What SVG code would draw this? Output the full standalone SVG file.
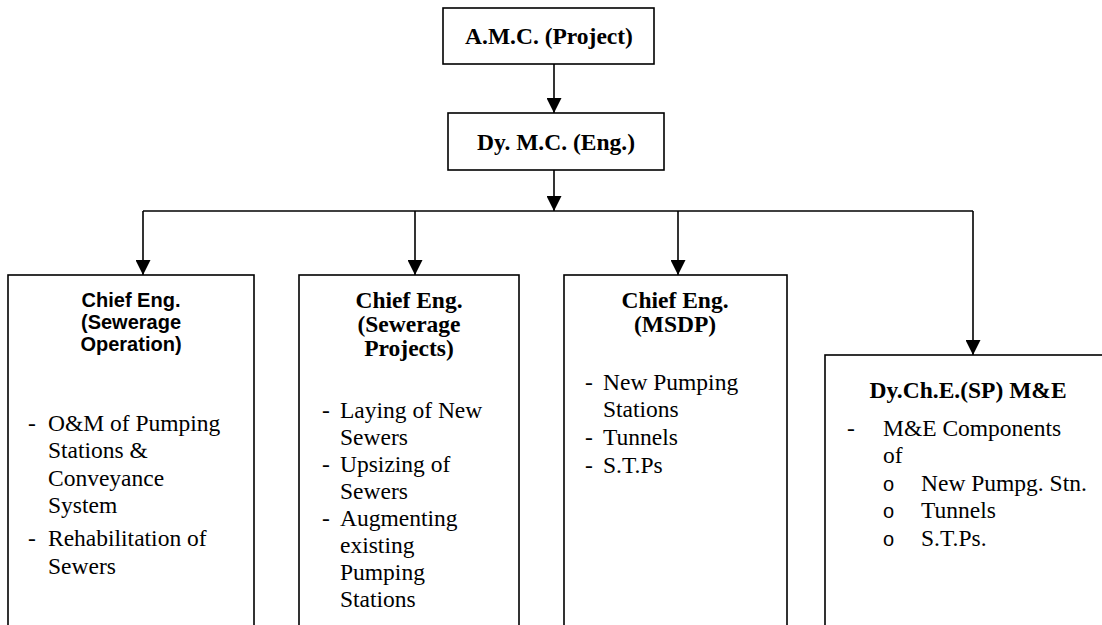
<svg xmlns="http://www.w3.org/2000/svg" width="1102" height="625" viewBox="0 0 1102 625">
  <style>
    .box { fill: #ffffff; stroke: #000000; stroke-width: 1.6; }
    .wire { fill: none; stroke: #000000; stroke-width: 1.6; }
    .hd { font-family: "Liberation Serif", "Times New Roman", serif; font-weight: bold; font-size: 23.5px; fill: #000; text-anchor: middle; }
    .gh { font-family: "Liberation Sans", Arial, sans-serif; font-weight: bold; font-size: 20px; fill: #000; text-anchor: middle; }
    .tx { font-family: "Liberation Serif", "Times New Roman", serif; font-size: 23.5px; fill: #000; }
    .bl { font-family: "Liberation Sans", Arial, sans-serif; font-size: 20px; fill: #000; }
  </style>
  <defs>
    <marker id="head" markerUnits="userSpaceOnUse" markerWidth="15" markerHeight="15" refX="15" refY="7.5" orient="auto">
      <path d="M0,0 L15,7.5 L0,15 z" fill="#000"/>
    </marker>
  </defs>

  <rect width="1102" height="625" fill="#ffffff"/>

  <!-- connectors -->
  <g id="connectors">
    <line class="wire" x1="554" y1="64" x2="554" y2="113" marker-end="url(#head)"/>
    <line class="wire" x1="554" y1="170" x2="554" y2="211" marker-end="url(#head)"/>
    <line class="wire" x1="143" y1="211" x2="973" y2="211"/>
    <line class="wire" x1="143" y1="211" x2="143" y2="275" marker-end="url(#head)"/>
    <line class="wire" x1="415" y1="211" x2="415" y2="275" marker-end="url(#head)"/>
    <line class="wire" x1="678" y1="211" x2="678" y2="275" marker-end="url(#head)"/>
    <line class="wire" x1="973" y1="211" x2="973" y2="355" marker-end="url(#head)"/>
  </g>

  <!-- top level -->
  <g id="amc">
    <rect class="box" x="443" y="8" width="211" height="56"/>
    <text class="hd" x="549" y="44">A.M.C. (Project)</text>
  </g>

  <g id="dymc">
    <rect class="box" x="448" y="113" width="216" height="57"/>
    <text class="hd" x="556" y="150">Dy. M.C. (Eng.)</text>
  </g>

  <!-- Sewerage Operation -->
  <g id="ce-operation">
    <rect class="box" x="8" y="275" width="246" height="380"/>
    <text class="gh" x="131" y="307">Chief Eng.</text>
    <text class="gh" x="131" y="329">(Sewerage</text>
    <text class="gh" x="131" y="351">Operation)</text>
    <text class="tx" x="28" y="431">-</text>
    <text class="tx" x="48" y="431">O&amp;M of Pumping</text>
    <text class="tx" x="48" y="458">Stations &amp;</text>
    <text class="tx" x="48" y="486">Conveyance</text>
    <text class="tx" x="48" y="513">System</text>
    <text class="tx" x="28" y="546">-</text>
    <text class="tx" x="48" y="546">Rehabilitation of</text>
    <text class="tx" x="48" y="574">Sewers</text>
  </g>

  <!-- Sewerage Projects -->
  <g id="ce-projects">
    <rect class="box" x="299" y="275" width="220" height="380"/>
    <text class="hd" x="409" y="308">Chief Eng.</text>
    <text class="hd" x="409" y="332">(Sewerage</text>
    <text class="hd" x="409" y="356">Projects)</text>
    <text class="tx" x="322" y="418">-</text>
    <text class="tx" x="340" y="418">Laying of New</text>
    <text class="tx" x="340" y="445">Sewers</text>
    <text class="tx" x="322" y="472">-</text>
    <text class="tx" x="340" y="472">Upsizing of</text>
    <text class="tx" x="340" y="499">Sewers</text>
    <text class="tx" x="322" y="526">-</text>
    <text class="tx" x="340" y="526">Augmenting</text>
    <text class="tx" x="340" y="553">existing</text>
    <text class="tx" x="340" y="580">Pumping</text>
    <text class="tx" x="340" y="607">Stations</text>
  </g>

  <!-- MSDP -->
  <g id="ce-msdp">
    <rect class="box" x="564" y="275" width="223" height="380"/>
    <text class="hd" x="675" y="308">Chief Eng.</text>
    <text class="hd" x="675" y="332">(MSDP)</text>
    <text class="tx" x="585" y="390">-</text>
    <text class="tx" x="603" y="390">New Pumping</text>
    <text class="tx" x="603" y="417">Stations</text>
    <text class="tx" x="585" y="445">-</text>
    <text class="tx" x="603" y="445">Tunnels</text>
    <text class="tx" x="585" y="473">-</text>
    <text class="tx" x="603" y="473">S.T.Ps</text>
  </g>

  <!-- M&E -->
  <g id="dyche-me">
    <rect class="box" x="825" y="355" width="300" height="300"/>
    <text class="hd" x="968" y="398">Dy.Ch.E.(SP) M&amp;E</text>
    <text class="tx" x="847" y="436">-</text>
    <text class="tx" x="883" y="436">M&amp;E Components</text>
    <text class="tx" x="883" y="463">of</text>
    <text class="bl" x="883" y="491">o</text>
    <text class="tx" x="921" y="491">New Pumpg. Stn.</text>
    <text class="bl" x="883" y="518">o</text>
    <text class="tx" x="921" y="518">Tunnels</text>
    <text class="bl" x="883" y="546">o</text>
    <text class="tx" x="921" y="546">S.T.Ps.</text>
  </g>
</svg>
